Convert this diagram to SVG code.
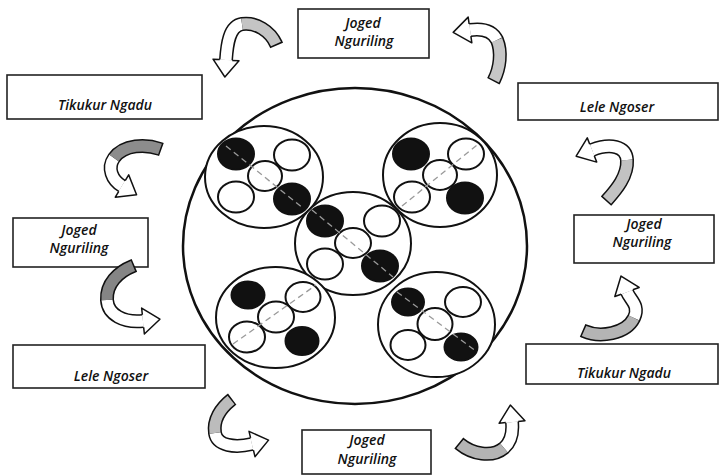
<svg xmlns="http://www.w3.org/2000/svg" width="720" height="476" viewBox="0 0 720 476">
<style>
.box{fill:#fff;stroke:#222;stroke-width:1.6}
.lbl{font-family:"Open Sans","Noto Sans","DejaVu Sans",sans-serif;font-style:italic;font-weight:600;font-size:14px;fill:#111;text-anchor:middle}
.big{fill:none;stroke:#111;stroke-width:2.5}
.cl{fill:#fff;stroke:#111;stroke-width:2}
.w{fill:#fff;stroke:#111;stroke-width:2}
.b{fill:#111;stroke:#111;stroke-width:2}
.dash{stroke:#9a9a9a;stroke-width:1.3;stroke-dasharray:6 4;fill:none}
.bo{fill:none;stroke:#111;stroke-width:14}
.bw{fill:none;stroke:#fff;stroke-width:11}
.bg{fill:none;stroke-width:11}
</style>
<defs>
<g id="head"><path d="M0,-13 L17,0 L0,13 Z" fill="#fff"/><path d="M0,-6.25 L0,-13 L17,0 L0,13 L0,6.25" fill="none" stroke="#111" stroke-width="1.5" stroke-linejoin="round"/></g>
</defs>
<rect width="720" height="476" fill="#fff"/>

<g id="main-circle"><ellipse class="big" cx="355" cy="246" rx="172" ry="158"/></g>

<g id="cluster-tl">
<ellipse class="cl" cx="264" cy="177" rx="59" ry="51"/>
<ellipse class="b" cx="236" cy="154" rx="18" ry="15.5"/>
<ellipse class="w" cx="292" cy="155" rx="18" ry="15.5"/>
<ellipse class="w" cx="265" cy="176" rx="17" ry="15"/>
<ellipse class="w" cx="236" cy="197" rx="18" ry="15.5"/>
<ellipse class="b" cx="292" cy="199" rx="18" ry="15.5"/>
<line class="dash" x1="226" y1="146" x2="303" y2="208"/>
</g>
<g id="cluster-tr">
<ellipse class="cl" cx="440" cy="175" rx="57" ry="52"/>
<ellipse class="b" cx="411" cy="154" rx="18" ry="15.5"/>
<ellipse class="w" cx="466" cy="154" rx="18" ry="15.5"/>
<ellipse class="w" cx="440" cy="175" rx="17" ry="15"/>
<ellipse class="w" cx="412" cy="197" rx="18" ry="15.5"/>
<ellipse class="b" cx="465" cy="198" rx="18" ry="15.5"/>
<line class="dash" x1="402" y1="206" x2="477" y2="145"/>
</g>
<g id="cluster-c">
<ellipse class="cl" cx="353" cy="243.5" rx="58" ry="51.5"/>
<ellipse class="b" cx="325" cy="221" rx="18" ry="15.5"/>
<ellipse class="w" cx="382" cy="221" rx="18" ry="15.5"/>
<ellipse class="w" cx="353" cy="243" rx="18" ry="15"/>
<ellipse class="w" cx="325" cy="264" rx="18" ry="15.5"/>
<ellipse class="b" cx="380" cy="266" rx="18" ry="15.5"/>
<line class="dash" x1="312" y1="210" x2="393" y2="277"/>
</g>
<g id="cluster-bl">
<ellipse class="cl" cx="275.5" cy="317.5" rx="59.5" ry="50.5"/>
<ellipse class="b" cx="248" cy="295" rx="16.5" ry="13.5"/>
<ellipse class="w" cx="303" cy="297" rx="17.5" ry="15"/>
<ellipse class="w" cx="276" cy="317" rx="18" ry="15.5"/>
<ellipse class="w" cx="247" cy="337" rx="18" ry="15.5"/>
<ellipse class="b" cx="302" cy="341" rx="16.5" ry="14"/>
<line class="dash" x1="233" y1="344" x2="316" y2="285"/>
</g>
<g id="cluster-br">
<ellipse class="cl" cx="436.5" cy="324.5" rx="58.5" ry="52.5"/>
<ellipse class="b" cx="408" cy="302" rx="16" ry="13.5"/>
<ellipse class="w" cx="463" cy="302" rx="18" ry="15"/>
<ellipse class="w" cx="435" cy="324" rx="17.5" ry="16"/>
<ellipse class="w" cx="408" cy="345" rx="17.5" ry="15"/>
<ellipse class="b" cx="461" cy="347" rx="16.5" ry="13.5"/>
<line class="dash" x1="397" y1="292" x2="477" y2="352"/>
</g>

<g id="node-top"><rect class="box" x="298" y="9" width="131" height="49"/><text class="lbl" x="363" y="28">Joged</text><text class="lbl" x="364" y="46">Nguriling</text></g>
<g id="node-tl"><rect class="box" x="7" y="75" width="195" height="44"/><text class="lbl" x="105" y="110">Tikukur Ngadu</text></g>
<g id="node-l1"><rect class="box" x="13" y="218" width="135" height="49"/><text class="lbl" x="79" y="235">Joged</text><text class="lbl" x="79" y="253">Nguriling</text></g>
<g id="node-l2"><rect class="box" x="13" y="345" width="192" height="43"/><text class="lbl" x="111" y="381">Lele Ngoser</text></g>
<g id="node-r1"><rect class="box" x="518" y="83" width="200" height="37"/><text class="lbl" x="617" y="112">Lele Ngoser</text></g>
<g id="node-r2"><rect class="box" x="574" y="215" width="140" height="48"/><text class="lbl" x="644" y="229">Joged</text><text class="lbl" x="642" y="247">Nguriling</text></g>
<g id="node-r3"><rect class="box" x="526" y="344" width="192" height="40"/><text class="lbl" x="624" y="378">Tikukur Ngadu</text></g>
<g id="node-bottom"><rect class="box" x="302" y="430" width="129" height="44"/><text class="lbl" x="367" y="445">Joged</text><text class="lbl" x="367" y="464">Nguriling</text></g>

<g id="connectors">
<g id="arrow-a">
<path class="bo" d="M276.6,45.4 L276,44 C270,31 256,22 242,24 C229,26 227,45 226,60"/>
<path class="bw" d="M242,24 C229,26 227,45 226,60"/>
<path class="bg" stroke="#c4c4c4" d="M276,44 C270,31 256,22 242,24"/>
<use href="#head" transform="translate(226,60) rotate(93.8)"/>
</g>
<g id="arrow-b">
<path class="bo" d="M493.3,81.3 L494,80 C500,68 502,52 497,40 C493,32 484,28 470,30"/>
<path class="bw" d="M497,40 C493,32 484,28 470,30"/>
<path class="bg" stroke="#c6c6c6" d="M494,80 C500,68 502,52 497,40"/>
<use href="#head" transform="translate(470,30) rotate(171.9)"/>
</g>
<g id="arrow-c">
<path class="bo" d="M161.4,149.5 L160,149 C146,144 124,144 114,158 C107,168 112,180 122,186"/>
<path class="bw" d="M114,158 C107,168 112,180 122,186"/>
<path class="bg" stroke="#8c8c8c" d="M160,149 C146,144 124,144 114,158"/>
<use href="#head" transform="translate(122,186) rotate(31)"/>
</g>
<g id="arrow-d">
<path class="bo" d="M134.4,265.4 L133,266 C118,272 106,284 107,300 C108,315 124,323 143,321"/>
<path class="bw" d="M107,300 C108,315 124,323 143,321"/>
<path class="bg" stroke="#858585" d="M133,266 C118,272 106,284 107,300"/>
<use href="#head" transform="translate(143,321) rotate(-6)"/>
</g>
<g id="arrow-e">
<path class="bo" d="M606,201.1 L607,200 C616,190 628,176 627,160 C626,146 610,143 592,150"/>
<path class="bw" d="M627,160 C626,146 610,143 592,150"/>
<path class="bg" stroke="#c2c2c2" d="M607,200 C616,190 628,176 627,160"/>
<use href="#head" transform="translate(592,150) rotate(158.7)"/>
</g>
<g id="arrow-f">
<path class="bo" d="M582.6,330.4 L584,331 C600,338 626,334 634,318 C640,305 630,300 627,292"/>
<path class="bw" d="M634,318 C640,305 630,300 627,292"/>
<path class="bg" stroke="#b4b4b4" d="M584,331 C600,338 626,334 634,318"/>
<use href="#head" transform="translate(627,292) rotate(-110.6)"/>
</g>
<g id="arrow-g">
<path class="bo" d="M232.2,399.1 L231,400 C221,408 213,420 215,433 C217,446 235,448 252,444"/>
<path class="bw" d="M215,433 C217,446 235,448 252,444"/>
<path class="bg" stroke="#bcbcbc" d="M231,400 C221,408 213,420 215,433"/>
<use href="#head" transform="translate(252,444) rotate(-13.2)"/>
</g>
<g id="arrow-h">
<path class="bo" d="M458.8,443 L460,444 C472,454 492,458 504,448 C512,441 513,432 512,422"/>
<path class="bw" d="M504,448 C512,441 513,432 512,422"/>
<path class="bg" stroke="#b4b4b4" d="M460,444 C472,454 492,458 504,448"/>
<use href="#head" transform="translate(512,422) rotate(-95.7)"/>
</g>
</g>
</svg>
